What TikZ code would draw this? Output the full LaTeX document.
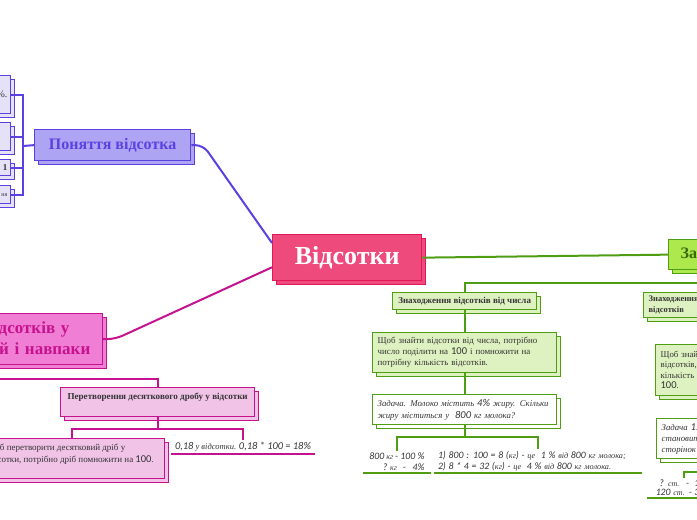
\documentclass[tikz,border=0pt]{standalone}
\usepackage{fontspec}
\setmainfont{Liberation Serif}
\newfontfamily\numf{Carlito}
\usetikzlibrary{shadows}
\definecolor{cred}{HTML}{EE4A7C}
\definecolor{credb}{HTML}{E0175A}
\definecolor{pur}{HTML}{5B40E2}
\definecolor{purf}{HTML}{ADA5F3}
\definecolor{purl}{HTML}{E5E2F8}
\definecolor{mag}{HTML}{C6128E}
\definecolor{magf}{HTML}{F07ED4}
\definecolor{magl}{HTML}{F0C3E7}
\definecolor{grn}{HTML}{4F9D12}
\definecolor{grnf}{HTML}{ADE94C}
\definecolor{grnl}{HTML}{DEF1C0}
\definecolor{grnt}{HTML}{3A6B0C}
\definecolor{txt}{HTML}{333333}
\newcommand\nm[1]{{\numf\fontsize{9.8}{11}\selectfont #1}}
\newcommand\nmu[1]{{\numf\fontsize{10.4}{11}\selectfont #1}}
\newcommand\nmb[1]{{\numf\fontsize{10.5}{11}\selectfont #1}}
\begin{document}
\begin{tikzpicture}[x=1pt,y=-1pt,
  box/.style={draw, line width=1.3pt, inner sep=0pt, rectangle,
    copy shadow={shadow xshift=4pt, shadow yshift=-4pt}},
  pbox/.style={box, draw=pur, fill=purl, anchor=north east, minimum width=60pt,
    text width=54pt, align=right, inner xsep=3pt, text=txt},
  gbox/.style={box, draw=grn, fill=grnl, text=txt},
  mbox/.style={box, draw=mag, fill=magl, text=txt},
  pline/.style={draw=pur, line width=2pt},
  mline/.style={draw=mag, line width=2pt},
  gline/.style={draw=grn, line width=2pt},
  uline/.style={inner xsep=0pt, inner ysep=2pt, text=txt}
]
\useasboundingbox (0,0) rectangle (697,520);
\clip (0,0) rectangle (697,520);

% central
\node[box, draw=credb, fill=cred, minimum width=149pt, minimum height=46pt,
  anchor=north west, font=\bfseries\fontsize{26}{30}\selectfont, text=white]
  (c) at (272,234) {Відсотки};

% purple branch
\node[box, draw=pur, fill=purf, minimum width=156pt, minimum height=31pt,
  anchor=north west, font=\bfseries\fontsize{16}{19}\selectfont, text=pur]
  (pn) at (34,129) {Поняття відсотка};
\node[pbox, minimum height=38pt, font=\fontsize{10}{12}\selectfont] (p1) at (11,75) {\%.};
\node[pbox, minimum height=28pt] (p2) at (11,122) {};
\node[pbox, minimum height=16pt, font=\bfseries\fontsize{9}{10}\selectfont] (p3) at (11,159) {1};
\node[pbox, minimum height=18pt, font=\fontsize{6}{7}\selectfont] (p4) at (11,185) {ня};
\coordinate (pb) at (23,146);
\draw[pline] (pn.west) -- (pb);
\draw[pline] (pb) |- (p1.east);
\draw[pline] (pb) |- (p2.east);
\draw[pline] (pb) |- (p3.east);
\draw[pline] (pb) |- (p4.east);
\draw[pline, rounded corners=8pt] (pn.east) -- ++(12,0) -- ([yshift=-9pt]c.north west);

% magenta branch
\node[box, draw=mag, fill=magf, minimum width=250pt, minimum height=51pt,
  anchor=north east, text width=226pt, align=right, inner xsep=12pt,
  font=\bfseries\fontsize{17}{21}\selectfont, text=mag]
  (pk) at (103,313) {Перетворення відсотків у\hbox to 21pt{}\\десятковий і навпаки};
\draw[mline, rounded corners=8pt] (pk.east) -- ++(12,0) -- ([yshift=14pt]c.south west);
\node[mbox, anchor=north west, inner xsep=4pt, inner ysep=5pt,
  font=\bfseries\fontsize{9.1}{10}\selectfont]
  (pt) at (60,387) {\parbox[c][19pt][t]{186pt}{\centering Перетворення десяткового дробу у відсотки}};
\coordinate (kb) at (pk.south |- 0,379);
\draw[mline] (pk.south) -- (kb) -| (pt.north);
\node[mbox, anchor=north east, inner xsep=6pt, inner ysep=5pt,
  font=\fontsize{9}{12}\selectfont]
  (pr) at (165,438) {\parbox[c][30pt][t]{172pt}{Щоб перетворити десятковий дріб у\\відсотки, потрібно дріб помножити на \nmb{100}.}};
\node[uline, anchor=south, minimum width=143pt, font=\itshape\fontsize{8.5}{9}\selectfont]
  (pu) at (243,454) {\nmu{0,18} у відсотки. \nmu{0,18 * 100 = 18\%}};
\draw[mline] (pu.south west) -- (pu.south east);
\coordinate (ptb) at (pt.south |- 0,429);
\draw[mline] (pt.south) -- (ptb);
\draw[mline] (ptb) -| (pr.north);
\draw[mline] (ptb) -| (pu.north);

% green branch
\node[box, draw=grn, fill=grnf, minimum width=160pt, minimum height=30pt,
  anchor=north west, text width=136pt, align=left, inner xsep=12pt,
  font=\bfseries\fontsize{16}{19}\selectfont, text=grnt]
  (gz) at (668,239) {Задачі на відсотки};
\draw[gline] (c.east) -- (gz.west);

\node[gbox, anchor=north west, minimum width=144pt, minimum height=17pt,
  font=\bfseries\fontsize{9}{10}\selectfont]
  (gk) at (392,292) {Знаходження відсотків від числа};
\node[gbox, anchor=north west, minimum width=184pt, minimum height=40pt,
  text width=174pt, align=left, inner xsep=5pt, font=\fontsize{8.9}{11}\selectfont]
  (gq) at (372,332) {Щоб знайти відсотки від числа, потрібно\\число поділити на \nmb{100} і помножити на\\потрібну кількість відсотків.};
\node[gbox, fill=white, anchor=north west, minimum width=184pt, minimum height=30pt,
  text width=174pt, align=left, inner xsep=5pt, font=\itshape\fontsize{8.8}{12}\selectfont]
  (gt) at (372,394) {Задача. Молоко містить \nmb{4\%} жиру. Скільки\\жиру міститься у \ \nmb{800} кг молока?};
\coordinate (gkb) at (gz.south |- 0,283);
\draw[gline] (gz.south) -- (gkb) -| (gk.north);
\draw[gline] (gk.south) -- (gq.north);
\draw[gline] (gq.south) -- (gt.north);

\node[uline, anchor=south, minimum width=68pt, align=right,
  font=\itshape\fontsize{8}{11}\selectfont]
  (gl) at (397,473) {\nm{800} кг \nm{- 100 \%}\\\nm{?} кг \ \ \nm{- \ \ 4\%}};
\draw[gline] (gl.south west) -- (gl.south east);
\node[uline, anchor=south, text width=200pt, inner xsep=4pt, align=left,
  font=\itshape\fontsize{8.2}{11}\selectfont]
  (gr) at (538,473) {\nm{1) 800 : 100 = 8 (}кг\nm{) -} це \ \nm{1 \%} від \nm{800} кг молока;\\\nm{2) 8 * 4 = 32 (}кг\nm{) -} це \ \nm{4 \%} від \nm{800} кг молока.};
\draw[gline] (gr.south west) -- (gr.south east);
\coordinate (gb) at (gt.south |- 0,437);
\draw[gline] (gt.south) -- (gb);
\draw[gline] (gb) -| (gl.north);
\draw[gline] (gb) -| (gr.north);

% right column
\node[gbox, anchor=north west, minimum width=206pt, minimum height=25pt,
  text width=196pt, align=left, inner xsep=5pt, font=\bfseries\fontsize{8.5}{11}\selectfont]
  (gk2) at (643,292) {Знаходження числа за значенням його\\відсотків};
\draw[gline] (gkb) -| (gk2.north);
\node[gbox, anchor=north west, minimum width=182pt, minimum height=51pt,
  text width=172pt, align=left, inner xsep=5pt, font=\fontsize{8.8}{10.5}\selectfont]
  (gq2) at (655,344) {Щоб знайти число за значенням його\\відсотків, потрібно це значення поділити на\\кількість відсотків і помножити на\\\nmb{100}.};
\node[gbox, fill=white, anchor=north west, minimum width=180pt, minimum height=40pt,
  text width=170pt, align=left, inner xsep=5pt, font=\itshape\fontsize{8.8}{11}\selectfont]
  (gz2) at (656,418) {Задача \nmb{1.} Прочитано \nmb{30 \%} книги, що\\становить \nmb{120} сторінок. Скільки\\сторінок у книзі?};
\draw[gline] (gk2.south) -- (gq2.north);
\draw[gline] (gq2.south) -- (gz2.north);
\node[uline, anchor=south, minimum width=74pt, text width=70pt, align=right,
  font=\itshape\fontsize{8}{9}\selectfont]
  (br) at (684,498) {\nm{?} ст. \ \nm{- \ 100 \%}\\\nm{120} ст. \nm{- 300 \%}};
\draw[gline] (br.south west) -- (br.south east);
\coordinate (g2b) at (gz2.south |- 0,472);
\draw[gline] (gz2.south) -- (g2b) -| (br.north);
\end{tikzpicture}
\end{document}
